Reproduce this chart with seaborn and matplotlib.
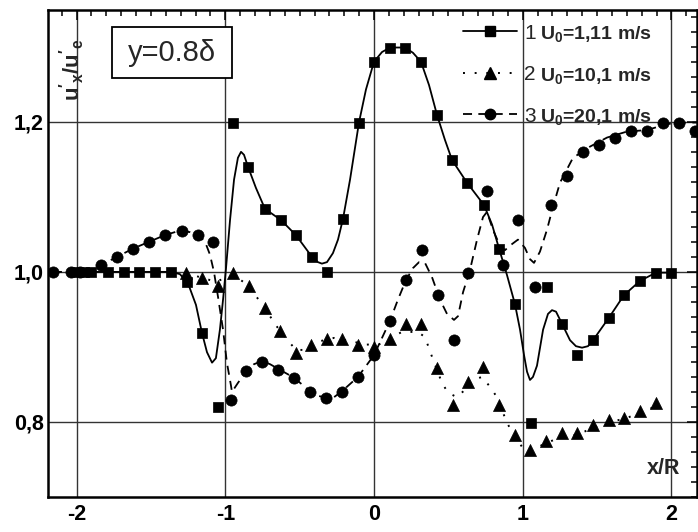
import matplotlib
matplotlib.use('Agg')
import matplotlib.pyplot as plt
import seaborn as sns
from matplotlib.lines import Line2D
from matplotlib.patches import Rectangle
from matplotlib.ticker import MultipleLocator, FixedLocator, FuncFormatter

sns.set_style('white')
plt.rcParams['font.family'] = ['Liberation Sans', 'DejaVu Sans']
plt.rcParams['font.weight'] = 'bold'
plt.rcParams['axes.unicode_minus'] = False
plt.rcParams['mathtext.fontset'] = 'custom'
plt.rcParams['mathtext.rm'] = 'Liberation Sans'
plt.rcParams['mathtext.bf'] = 'Liberation Sans:bold'
plt.rcParams['mathtext.it'] = 'Liberation Sans:italic'

# ---------------- data ----------------
# series 1 : U0 = 1,11 m/s (squares)
s1_x = [-2.0, -1.95, -1.9, -1.787, -1.681, -1.58, -1.472, -1.367, -1.26, -1.155, -1.049,
        -0.946, -0.845, -0.733, -0.627, -0.525, -0.419, -0.314, -0.206, -0.101, 0.002,
        0.108, 0.210, 0.316, 0.422, 0.527, 0.627, 0.740, 0.843, 0.948, 1.054, 1.161,
        1.264, 1.367, 1.471, 1.578, 1.683, 1.789, 1.894, 1.997]
s1_y = [1.0, 1.0, 1.0, 1.0, 1.0, 1.0, 1.0, 1.0, 0.987, 0.919, 0.820,
        1.199, 1.140, 1.084, 1.069, 1.049, 1.020, 1.000, 1.070, 1.199, 1.280,
        1.299, 1.299, 1.280, 1.209, 1.149, 1.119, 1.089, 1.031, 0.957, 0.799, 0.980,
        0.930, 0.889, 0.909, 0.939, 0.969, 0.988, 0.999, 0.999]
# smooth curve of series 1 (solid)
c1_x = [-1.997, -1.365, -1.305, -1.251, -1.197, -1.157, -1.123, -1.089, -1.063, -1.036,
        -1.015, -0.995, -0.968, -0.941, -0.915, -0.894, -0.874, -0.847, -0.794, -0.733,
        -0.625, -0.525, -0.417, -0.377, -0.350, -0.316, -0.276, -0.242, -0.208, -0.161,
        -0.101, -0.054, 0.0, 0.054, 0.108, 0.208, 0.262, 0.316, 0.370, 0.424,
        0.477, 0.525, 0.625, 0.740, 0.794, 0.841, 0.894, 0.948, 0.982, 1.009,
        1.029, 1.049, 1.069, 1.096, 1.137, 1.170, 1.197, 1.224, 1.264, 1.318,
        1.358, 1.399, 1.439, 1.473, 1.580, 1.681, 1.789, 1.896, 1.997]
c1_y = [1.000, 1.000, 0.997, 0.985, 0.956, 0.919, 0.893, 0.879, 0.885, 0.923,
        0.963, 1.005, 1.069, 1.123, 1.152, 1.160, 1.156, 1.140, 1.112, 1.084,
        1.069, 1.049, 1.020, 1.013, 1.011, 1.013, 1.025, 1.043, 1.071, 1.123,
        1.199, 1.243, 1.280, 1.293, 1.299, 1.299, 1.292, 1.280, 1.249, 1.209,
        1.176, 1.149, 1.119, 1.089, 1.063, 1.031, 0.996, 0.957, 0.923, 0.889,
        0.867, 0.856, 0.860, 0.875, 0.923, 0.944, 0.949, 0.947, 0.931, 0.909,
        0.901, 0.899, 0.901, 0.909, 0.939, 0.969, 0.988, 0.999, 0.999]

# series 2 : U0 = 10,1 m/s (triangles)
s2_x = [-1.266, -1.159, -1.051, -0.950, -0.841, -0.736, -0.632, -0.525, -0.424, -0.318,
        -0.213, -0.106, 0.0, 0.106, 0.213, 0.316, 0.422, 0.529, 0.634, 0.735,
        0.843, 0.948, 1.049, 1.157, 1.264, 1.367, 1.471, 1.578, 1.683, 1.789, 1.894]
s2_y = [0.999, 0.992, 0.981, 0.999, 0.981, 0.952, 0.921, 0.892, 0.902, 0.911,
        0.911, 0.902, 0.900, 0.911, 0.931, 0.931, 0.872, 0.823, 0.853, 0.873,
        0.823, 0.783, 0.763, 0.775, 0.785, 0.785, 0.796, 0.803, 0.805, 0.815, 0.825]
# smooth curve of series 2 (dotted)
c2_x = [-1.264, -1.157, -1.063, -0.982, -0.915, -0.841, -0.740, -0.632, -0.525, -0.464,
        -0.377, -0.269, -0.161, -0.054, 0.040, 0.121, 0.188, 0.296, 0.343, 0.390,
        0.457, 0.498, 0.558, 0.612, 0.666, 0.726, 0.780, 0.827, 0.894, 0.948,
        0.995, 1.049, 1.157, 1.264, 1.365, 1.473, 1.580, 1.681, 1.789, 1.896]
c2_y = [0.999, 0.992, 0.987, 0.993, 0.992, 0.981, 0.953, 0.921, 0.896, 0.896,
        0.907, 0.912, 0.908, 0.903, 0.904, 0.913, 0.920, 0.920, 0.913, 0.887,
        0.852, 0.839, 0.833, 0.843, 0.856, 0.860, 0.847, 0.833, 0.799, 0.780,
        0.767, 0.761, 0.772, 0.780, 0.783, 0.792, 0.800, 0.804, 0.812, 0.821]

# series 3 : U0 = 20,1 m/s (circles)
s3_x = [-2.16, -2.04, -1.98, -1.838, -1.730, -1.619, -1.513, -1.403, -1.293, -1.186,
        -1.081, -0.962, -0.861, -0.755, -0.646, -0.538, -0.430, -0.323, -0.215, -0.105,
        0.0, 0.108, 0.215, 0.323, 0.430, 0.538, 0.632, 0.758, 0.866, 0.971,
        1.083, 1.190, 1.296, 1.408, 1.515, 1.621, 1.728, 1.838, 1.946, 2.051, 2.159]
s3_y = [1.0, 1.0, 1.0, 1.009, 1.020, 1.030, 1.040, 1.049, 1.055, 1.049,
        1.040, 0.829, 0.868, 0.880, 0.869, 0.859, 0.840, 0.832, 0.840, 0.860,
        0.889, 0.934, 0.989, 1.029, 0.969, 0.909, 0.999, 1.108, 1.009, 1.069,
        0.980, 1.089, 1.128, 1.160, 1.169, 1.179, 1.188, 1.188, 1.198, 1.198, 1.188]
# smooth curve of series 3 (dashed)
c3_x = [-2.159, -1.896, -1.836, -1.728, -1.621, -1.513, -1.406, -1.305, -1.237, -1.170,
        -1.130, -1.103, -1.076, -1.049, -1.015, -0.989, -0.962, -0.955, -0.915, -0.861,
        -0.807, -0.753, -0.699, -0.646, -0.538, -0.430, -0.377, -0.323, -0.269, -0.215,
        -0.108, 0.0, 0.054, 0.108, 0.161, 0.215, 0.262, 0.303, 0.343, 0.390,
        0.444, 0.491, 0.538, 0.565, 0.599, 0.646, 0.693, 0.733, 0.760, 0.800,
        0.847, 0.881, 0.921, 0.968, 1.015, 1.049, 1.076, 1.116, 1.163, 1.204,
        1.251, 1.338, 1.453, 1.567, 1.701, 1.836, 1.970, 2.058, 2.172]
c3_y = [1.000, 1.000, 1.009, 1.020, 1.031, 1.040, 1.049, 1.055, 1.053, 1.048,
        1.037, 1.023, 1.000, 0.967, 0.923, 0.879, 0.849, 0.840, 0.852, 0.867,
        0.877, 0.881, 0.877, 0.871, 0.859, 0.841, 0.835, 0.832, 0.833, 0.841,
        0.860, 0.889, 0.912, 0.935, 0.963, 0.989, 1.005, 1.013, 1.012, 0.993,
        0.963, 0.944, 0.936, 0.941, 0.973, 1.003, 1.043, 1.073, 1.080, 1.056,
        1.035, 1.029, 1.036, 1.043, 1.032, 1.017, 1.012, 1.027, 1.056, 1.087,
        1.119, 1.152, 1.167, 1.179, 1.187, 1.189, 1.197, 1.199, 1.199]

legend_numbers = ['1', '2', '3']
legend_texts = [r'U$_\mathbf{0}$=1,11 m/s', r'U$_\mathbf{0}$=10,1 m/s', r'U$_\mathbf{0}$=20,1 m/s']
x_ticks = [-2, -1, 0, 1, 2]
y_ticks = [0.8, 1.0, 1.2]

# ---------------- figure ----------------
fig = plt.figure(figsize=(6.98, 5.32), dpi=100)
ax = fig.add_axes([48 / 698, 1 - 497 / 532, 649 / 698, 487 / 532])

dash3 = (0, (5, 3.5))
dot2 = (0, (1, 5))

sns.lineplot(x=c1_x, y=c1_y, sort=False, estimator=None, color='black', lw=1.3,
             linestyle='-', ax=ax, zorder=3)
sns.lineplot(x=c2_x, y=c2_y, sort=False, estimator=None, color='black', lw=1.4,
             linestyle=dot2, ax=ax, zorder=3)
sns.lineplot(x=c3_x, y=c3_y, sort=False, estimator=None, color='black', lw=1.3,
             linestyle=dash3, ax=ax, zorder=3)

sns.scatterplot(x=s1_x, y=s1_y, marker='s', s=55, color='black', edgecolor='black',
                linewidth=0.5, ax=ax, zorder=5)
sns.scatterplot(x=s2_x, y=s2_y, marker='^', s=75, color='black', edgecolor='black',
                linewidth=0.5, ax=ax, zorder=5)
sns.scatterplot(x=s3_x, y=s3_y, marker='o', s=65, color='black', edgecolor='black',
                linewidth=0.5, ax=ax, zorder=5)

ax.set_xlim(-2.192, 2.172)
ax.set_ylim(0.70, 1.349)
ax.xaxis.set_major_locator(FixedLocator(x_ticks))
ax.yaxis.set_major_locator(FixedLocator(y_ticks))
ax.xaxis.set_minor_locator(MultipleLocator(0.1))
ax.yaxis.set_minor_locator(MultipleLocator(0.02))
ax.xaxis.set_major_formatter(FuncFormatter(lambda v, p: f'{v:.0f}'))
ax.yaxis.set_major_formatter(FuncFormatter(lambda v, p: f'{v:.1f}'.replace('.', ',')))
ax.tick_params(which='both', direction='in', top=True, right=True, width=1.1,
               colors='black', labelsize=15.5)
ax.tick_params(which='major', length=7)
ax.tick_params(which='minor', length=4.5)
ax.tick_params(axis='x', pad=5)
ax.tick_params(axis='y', pad=3)
ax.grid(True, which='major', color='#333333', lw=1.0, zorder=1)
ax.set_axisbelow(True)
for sp in ax.spines.values():
    sp.set_linewidth(1.8)
    sp.set_color('black')
ax.set_xlabel('')
ax.set_ylabel('')

# y label inside the axes
ax.text(0.037, 0.878, r"$\mathbf{u'_x/u'_e}$", rotation=90, ha='center', va='center',
        fontsize=16, transform=ax.transAxes, zorder=7)
ax.text(0.948, 0.0575, 'x/R', ha='center', va='center', fontsize=15.5,
        fontweight='bold', transform=ax.transAxes, zorder=7)

# box with y=0.8δ
ax.add_patch(Rectangle((0.0986, 0.860), 0.185, 0.105, transform=ax.transAxes,
                       facecolor='white', edgecolor='black', lw=1.3, zorder=6))
ax.text(0.191, 0.912, 'y=0.8δ', ha='center', va='center', fontsize=21,
        fontweight='normal', transform=ax.transAxes, zorder=7)

# legend
handles = [
    Line2D([0], [0], color='black', lw=1.3, linestyle='-', marker='s', markersize=7),
    Line2D([0], [0], color='black', lw=1.4, linestyle=dot2, marker='^', markersize=8),
    Line2D([0], [0], color='black', lw=1.3, linestyle=dash3, marker='o', markersize=7.5),
]
leg = ax.legend(handles, legend_numbers, loc='upper left', bbox_to_anchor=(0.639, 0.972),
                frameon=False, borderpad=0, borderaxespad=0, handlelength=2.6,
                handletextpad=0.35, labelspacing=1.08, numpoints=1,
                prop={'size': 15, 'weight': 'normal'})
leg.set_zorder(8)
for yy, t in zip([0.9396, 0.8533, 0.7692], legend_texts):
    ax.text(0.758, yy, t, ha='left', va='baseline', fontsize=14, fontweight='bold',
            transform=ax.transAxes, zorder=8)

fig.savefig('out.png', dpi=100)
